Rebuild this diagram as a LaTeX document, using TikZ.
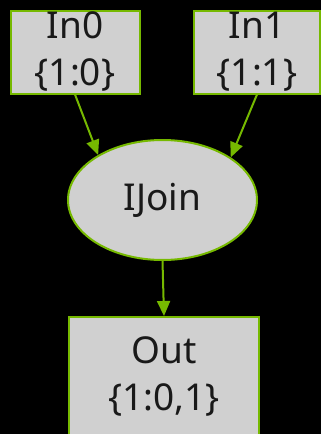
\documentclass[tikz,border=0pt]{standalone}
\usepackage{fontspec}
\setmainfont{Noto Sans}
\usetikzlibrary{arrows.meta,shapes.geometric}
\definecolor{nvgreen}{HTML}{76B900}
\definecolor{boxfill}{HTML}{D0D0D0}
\begin{document}
\begin{tikzpicture}[x=1pt,y=-1pt,
  label font/.style={font=\fontsize{37}{47}\selectfont, text=black!90},
  block/.style={rectangle, draw=nvgreen, fill=boxfill, line width=2pt,
    inner sep=0pt, align=center, label font},
  joinnode/.style={ellipse, draw=nvgreen, fill=boxfill, line width=2pt,
    inner sep=0pt, minimum width=189pt, minimum height=120pt, label font},
  edge/.style={draw=nvgreen, line width=2pt,
    -{Triangle[length=15pt,width=13pt]}, shorten >=0pt}]
  \useasboundingbox (0,0) rectangle (321,434);
  \fill[black] (0,0) rectangle (321,434);
  \begin{scope}
    \clip (0,0) rectangle (321,434);
    % inputs
    \node[block, minimum width=129pt, minimum height=83pt] (in0) at (75,52) {In0\\\{1:0\}};
    \node[block, minimum width=126pt, minimum height=83pt] (in1) at (257,52) {In1\\\{1:1\}};
    % join
    \node[joinnode] (join) at (162.5,200) {IJoin};
    % output
    \node[block, minimum width=190pt, minimum height=119pt] (out) at (164,376.5) {Out\\\{1:0,1\}};
    % connectors
    \draw[edge] (in0.south) -- (join.145);
    \draw[edge] (in1.south) -- (join.32);
    \draw[edge] (join.south) -- (out.north);
  \end{scope}
\end{tikzpicture}
\end{document}
